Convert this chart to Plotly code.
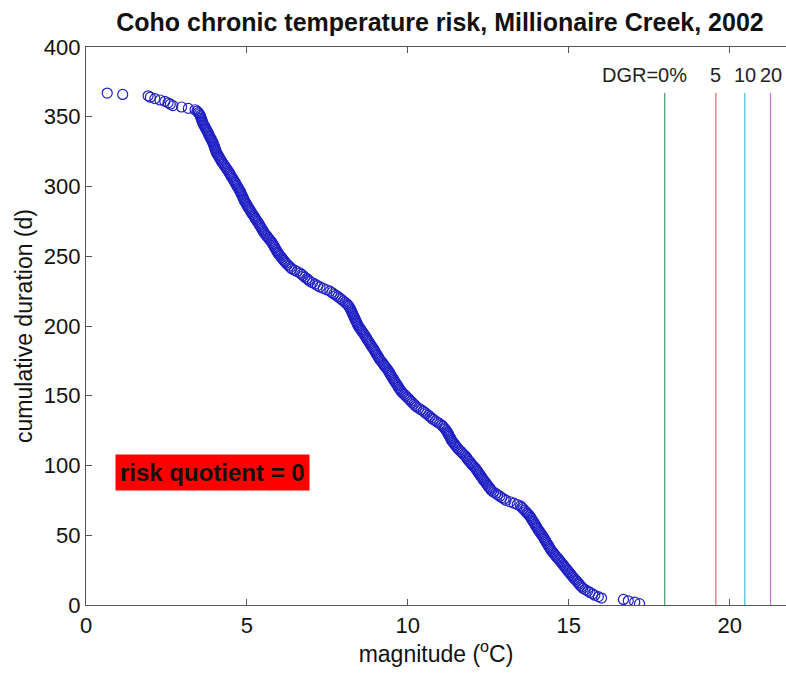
import plotly.graph_objects as go

# daily magnitude values (deg C), ordered from longest to shortest cumulative duration
magnitude = [
    0.66, 1.14, 1.93, 2.00, 2.14, 2.30, 2.45, 2.55, 2.62, 2.70,
    2.97, 3.18, 3.39, 3.45, 3.49, 3.52, 3.55, 3.56, 3.58, 3.59,
    3.61, 3.62, 3.64, 3.66, 3.69, 3.71, 3.73, 3.76, 3.78, 3.80,
    3.82, 3.84, 3.86, 3.89, 3.91, 3.93, 3.95, 3.97, 3.98, 4.00,
    4.01, 4.03, 4.04, 4.06, 4.09, 4.11, 4.14, 4.16, 4.19, 4.21,
    4.24, 4.27, 4.30, 4.33, 4.36, 4.39, 4.42, 4.45, 4.47, 4.50,
    4.52, 4.55, 4.58, 4.60, 4.63, 4.65, 4.68, 4.70, 4.73, 4.75,
    4.78, 4.80, 4.82, 4.84, 4.86, 4.88, 4.90, 4.92, 4.94, 4.97,
    4.99, 5.02, 5.04, 5.07, 5.10, 5.12, 5.15, 5.18, 5.21, 5.24,
    5.26, 5.29, 5.32, 5.35, 5.38, 5.40, 5.43, 5.45, 5.48, 5.51,
    5.53, 5.56, 5.60, 5.63, 5.67, 5.70, 5.74, 5.77, 5.80, 5.82,
    5.85, 5.87, 5.90, 5.92, 5.95, 5.97, 6.01, 6.04, 6.08, 6.11,
    6.15, 6.18, 6.22, 6.26, 6.31, 6.35, 6.39, 6.48, 6.56, 6.65,
    6.70, 6.75, 6.80, 6.86, 6.91, 6.96, 7.04, 7.12, 7.19, 7.27,
    7.37, 7.48, 7.58, 7.64, 7.70, 7.77, 7.83, 7.89, 7.94, 7.99,
    8.05, 8.10, 8.14, 8.17, 8.20, 8.22, 8.24, 8.26, 8.28, 8.30,
    8.32, 8.34, 8.36, 8.38, 8.40, 8.42, 8.44, 8.46, 8.49, 8.52,
    8.55, 8.58, 8.61, 8.64, 8.67, 8.70, 8.72, 8.75, 8.78, 8.81,
    8.83, 8.86, 8.89, 8.92, 8.95, 8.97, 9.00, 9.02, 9.05, 9.08,
    9.10, 9.13, 9.16, 9.20, 9.23, 9.26, 9.29, 9.33, 9.36, 9.39,
    9.42, 9.44, 9.47, 9.49, 9.52, 9.55, 9.57, 9.60, 9.63, 9.66,
    9.69, 9.71, 9.74, 9.77, 9.80, 9.84, 9.89, 9.93, 9.97, 10.02,
    10.06, 10.10, 10.14, 10.19, 10.23, 10.27, 10.34, 10.41, 10.48, 10.53,
    10.58, 10.64, 10.69, 10.74, 10.79, 10.86, 10.92, 10.99, 11.05, 11.09,
    11.13, 11.16, 11.20, 11.22, 11.25, 11.27, 11.29, 11.32, 11.34, 11.36,
    11.39, 11.43, 11.46, 11.49, 11.53, 11.56, 11.60, 11.65, 11.69, 11.73,
    11.78, 11.82, 11.84, 11.87, 11.91, 11.95, 11.98, 12.02, 12.06, 12.10,
    12.13, 12.16, 12.19, 12.22, 12.25, 12.28, 12.31, 12.34, 12.37, 12.41,
    12.44, 12.47, 12.50, 12.54, 12.57, 12.60, 12.66, 12.73, 12.79, 12.86,
    12.92, 12.99, 13.05, 13.18, 13.30, 13.40, 13.50, 13.54, 13.58, 13.62,
    13.66, 13.70, 13.74, 13.78, 13.81, 13.84, 13.86, 13.89, 13.92, 13.95,
    13.97, 14.00, 14.02, 14.05, 14.08, 14.11, 14.14, 14.17, 14.20, 14.23,
    14.25, 14.28, 14.30, 14.33, 14.36, 14.38, 14.41, 14.43, 14.46, 14.50,
    14.53, 14.57, 14.60, 14.64, 14.68, 14.71, 14.75, 14.78, 14.82, 14.85,
    14.89, 14.92, 14.96, 14.99, 15.03, 15.06, 15.10, 15.13, 15.17, 15.21,
    15.25, 15.29, 15.32, 15.36, 15.40, 15.44, 15.51, 15.59, 15.66, 15.74,
    15.81, 15.92, 16.02, 16.70, 16.85, 17.05, 17.20,
]

# cumulative duration (d): number of days at or above each magnitude
duration = [sum(1 for m in magnitude if m >= v) for v in magnitude]

# DGR threshold lines
dgr_values = [17.98, 19.57, 20.47, 21.27]
dgr_labels = ["DGR=0%", "5", "10", "20"]
dgr_colors = ["#4fa873", "#d47878", "#4cc8d4", "#c77ad6"]
dgr_top = 367
label_y = 380

x_ticks = [0, 5, 10, 15, 20]
y_ticks = [0, 50, 100, 150, 200, 250, 300, 350, 400]

FONT = "Liberation Sans, Arial, sans-serif"

fig = go.Figure()
fig.add_trace(go.Scatter(
    x=magnitude, y=duration, mode="markers",
    marker=dict(symbol="circle-open", size=10, color="#2020c4",
                line=dict(width=1.2, color="#2020c4")),
    showlegend=False, hoverinfo="x+y",
))

for xv, lab, col in zip(dgr_values, dgr_labels, dgr_colors):
    fig.add_shape(type="line", x0=xv, x1=xv, y0=0, y1=dgr_top,
                  xref="x", yref="y", line=dict(color=col, width=1.3))
    fig.add_annotation(x=xv, y=label_y, text=lab, showarrow=False,
                       xanchor="center", yanchor="middle",
                       xshift=-20 if lab.startswith("DGR") else 0,
                       font=dict(family=FONT, size=20, color="#222"))

fig.add_annotation(x=0.9, y=95, text="<b>risk quotient = 0</b>", showarrow=False,
                   xanchor="left", yanchor="middle", bgcolor="#ff0000",
                   borderpad=4, font=dict(family=FONT, size=24, color="#111"))

fig.update_layout(
    width=786, height=673,
    margin=dict(l=86, r=0, t=47, b=68),
    paper_bgcolor="white", plot_bgcolor="white",
    title=dict(text="<b>Coho chronic temperature risk, Millionaire Creek, 2002</b>",
               x=(440 - 86) / 700, xref="paper", xanchor="center",
               y=1 - 22 / 673, yref="container", yanchor="middle",
               font=dict(family=FONT, size=25, color="#111")),
    font=dict(family=FONT, color="#111"),
)
fig.update_xaxes(
    range=[0, 21.75], tickvals=x_ticks, ticktext=[str(v) for v in x_ticks],
    ticks="inside", ticklen=6, tickcolor="#555", showline=True, linecolor="#555",
    linewidth=1.2, mirror="ticks", showgrid=False, zeroline=False,
    tickfont=dict(family=FONT, size=22, color="#111"),
    title=dict(text="magnitude (<sup>o</sup>C)", font=dict(family=FONT, size=23, color="#111"),
               standoff=6),
)
fig.update_yaxes(
    range=[0, 400], tickvals=y_ticks, ticktext=[str(v) for v in y_ticks],
    ticks="inside", ticklen=6, tickcolor="#555", showline=True, linecolor="#555",
    linewidth=1.2, mirror=False, showgrid=False, zeroline=False,
    tickfont=dict(family=FONT, size=22, color="#111"),
    title=dict(text="cumulative duration (d)", font=dict(family=FONT, size=23, color="#111"),
               standoff=4),
)

fig.write_html("out.html")
